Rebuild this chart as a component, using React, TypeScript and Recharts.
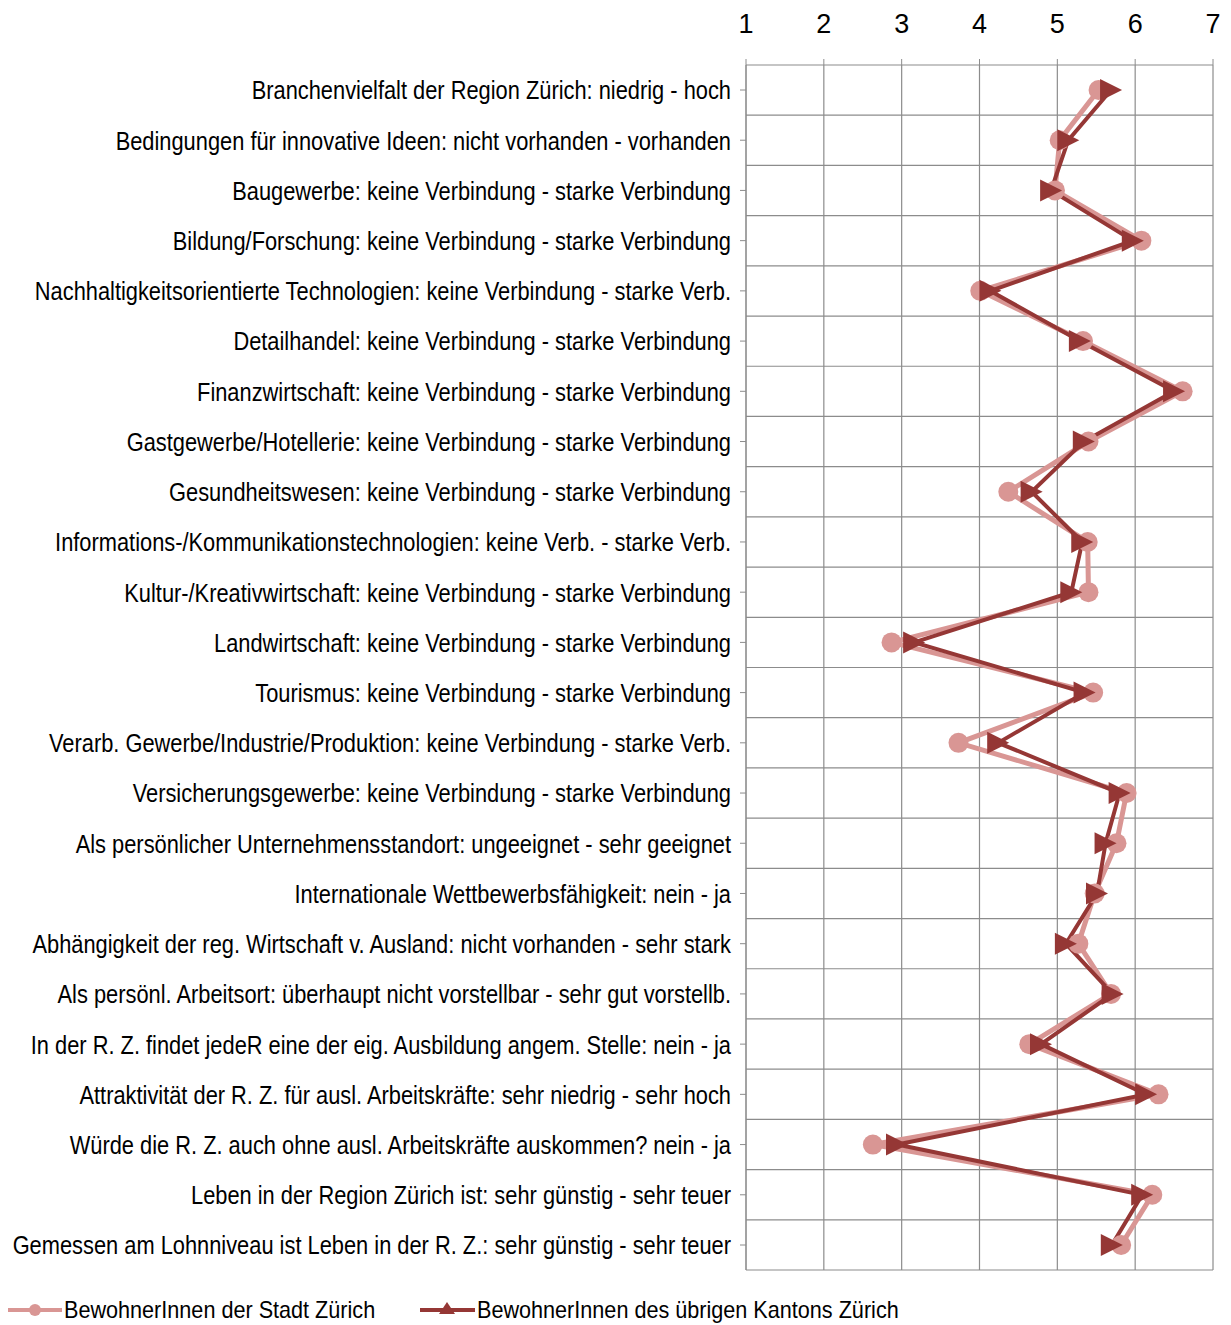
import React from 'react';
import { LineChart, Line, XAxis, YAxis, CartesianGrid, Legend } from 'recharts';

const categories = [
  'Branchenvielfalt der Region Zürich: niedrig - hoch',
  'Bedingungen für innovative Ideen: nicht vorhanden - vorhanden',
  'Baugewerbe: keine Verbindung - starke Verbindung',
  'Bildung/Forschung: keine Verbindung - starke Verbindung',
  'Nachhaltigkeitsorientierte Technologien: keine Verbindung - starke Verb.',
  'Detailhandel: keine Verbindung - starke Verbindung',
  'Finanzwirtschaft:  keine Verbindung - starke Verbindung',
  'Gastgewerbe/Hotellerie: keine Verbindung - starke Verbindung',
  'Gesundheitswesen: keine Verbindung - starke Verbindung',
  'Informations-/Kommunikationstechnologien: keine Verb. - starke Verb.',
  'Kultur-/Kreativwirtschaft: keine Verbindung - starke Verbindung',
  'Landwirtschaft: keine Verbindung - starke Verbindung',
  'Tourismus: keine Verbindung - starke Verbindung',
  'Verarb. Gewerbe/Industrie/Produktion: keine Verbindung - starke Verb.',
  'Versicherungsgewerbe: keine Verbindung - starke Verbindung',
  'Als persönlicher Unternehmensstandort: ungeeignet - sehr geeignet',
  'Internationale Wettbewerbsfähigkeit: nein - ja',
  'Abhängigkeit der reg. Wirtschaft v. Ausland: nicht vorhanden - sehr stark',
  'Als persönl. Arbeitsort: überhaupt nicht vorstellbar - sehr gut vorstellb.',
  'In der R. Z. findet jedeR eine der eig. Ausbildung angem. Stelle: nein - ja',
  'Attraktivität der R. Z. für ausl. Arbeitskräfte: sehr niedrig - sehr hoch',
  'Würde die R. Z. auch ohne ausl. Arbeitskräfte auskommen? nein - ja',
  'Leben in der Region Zürich ist: sehr günstig - sehr teuer',
  'Gemessen am Lohnniveau ist Leben in der R. Z.: sehr günstig - sehr teuer',
];

const stadt = [5.53, 5.03, 4.97, 6.08, 4.01, 5.33, 6.61, 5.4, 4.37, 5.39, 5.4, 2.87, 5.46, 3.73, 5.89, 5.76, 5.48, 5.27, 5.69, 4.64, 6.3, 2.63, 6.22, 5.82];
const kanton = [5.69, 5.14, 4.92, 5.97, 4.14, 5.29, 6.5, 5.34, 4.67, 5.32, 5.18, 3.16, 5.35, 4.24, 5.8, 5.62, 5.51, 5.11, 5.71, 4.79, 6.14, 2.94, 6.09, 5.7];

const xTicks = [1, 2, 3, 4, 5, 6, 7];
const seriesNames = ['BewohnerInnen der Stadt Zürich', 'BewohnerInnen des übrigen Kantons Zürich'];

const PINK = '#d99694';
const DARK = '#953735';
const GRID = '#8c8c8c';
const FONT = "'Liberation Sans', Arial, sans-serif";

const data = categories.map((c, i) => ({ cat: c, stadt: stadt[i], kanton: kanton[i] }));

const TriangleDot = (props: any) => {
  const { cx, cy } = props;
  if (cx == null || cy == null) return null;
  const s = 11;
  return <polygon points={`${cx - s},${cy - s} ${cx + s},${cy} ${cx - s},${cy + s}`} fill={DARK} />;
};

const CircleDot = (props: any) => {
  const { cx, cy } = props;
  if (cx == null || cy == null) return null;
  return <circle cx={cx} cy={cy} r={10} fill={PINK} />;
};

const CategoryTick = (props: any) => {
  const { x, y, payload } = props;
  return (
    <g transform={`translate(${x},${y})`}>
      <text
        transform="scale(0.84,1)"
        x={0}
        y={0}
        dy="0.36em"
        textAnchor="end"
        fill="#000"
        fontSize={26}
        fontFamily={FONT}
      >
        {payload.value}
      </text>
    </g>
  );
};

const LegendContent = () => (
  <svg width={1231} height={30} style={{ display: 'block' }}>
    <line x1={8} y1={15} x2={62} y2={15} stroke={PINK} strokeWidth={4} />
    <circle cx={35} cy={15} r={6} fill={PINK} />
    <g transform="translate(64,15)">
      <text transform="scale(0.94,1)" dy="0.36em" fontSize={23} fontFamily={FONT} fill="#000">
        {seriesNames[0]}
      </text>
    </g>
    <line x1={420} y1={15} x2={475} y2={15} stroke={DARK} strokeWidth={4} />
    <polygon points="447,7 455,19 439,19" fill={DARK} />
    <g transform="translate(477,15)">
      <text transform="scale(0.94,1)" dy="0.36em" fontSize={23} fontFamily={FONT} fill="#000">
        {seriesNames[1]}
      </text>
    </g>
  </svg>
);

export default function App() {
  return (
    <div style={{ position: 'absolute', left: 0, top: 0, background: '#fff' }}>
      <LineChart
        width={1231}
        height={1325}
        data={data}
        layout="vertical"
        margin={{ top: 0, right: 18, bottom: 25, left: 0 }}
      >
        <CartesianGrid
          stroke={GRID}
          strokeWidth={1.2}
          horizontalCoordinatesGenerator={({ offset }: any) => {
            const n = categories.length;
            const arr: number[] = [];
            for (let i = 0; i <= n; i++) arr.push(offset.top + (i * offset.height) / n);
            return arr;
          }}
        />
        <XAxis
          type="number"
          orientation="top"
          domain={[1, 7]}
          ticks={xTicks}
          height={65}
          tickSize={6}
          tickMargin={26}
          axisLine={false}
          tickLine={{ stroke: GRID }}
          tick={{ fill: '#000', fontSize: 27, fontFamily: FONT }}
          interval={0}
        />
        <YAxis
          type="category"
          dataKey="cat"
          width={746}
          tickSize={6}
          tickMargin={9}
          padding={{ top: 25, bottom: 25 }}
          axisLine={{ stroke: GRID }}
          tickLine={{ stroke: GRID }}
          tick={<CategoryTick />}
          interval={0}
        />
        <Legend
          verticalAlign="bottom"
          align="left"
          height={30}
          wrapperStyle={{ left: 0, bottom: 0, width: 1231, height: 30 }}
          content={<LegendContent />}
        />
        <Line
          dataKey="stadt"
          name={seriesNames[0]}
          stroke={PINK}
          strokeWidth={5}
          dot={<CircleDot />}
          isAnimationActive={false}
        />
        <Line
          dataKey="kanton"
          name={seriesNames[1]}
          stroke={DARK}
          strokeWidth={4}
          dot={<TriangleDot />}
          isAnimationActive={false}
        />
      </LineChart>
    </div>
  );
}
